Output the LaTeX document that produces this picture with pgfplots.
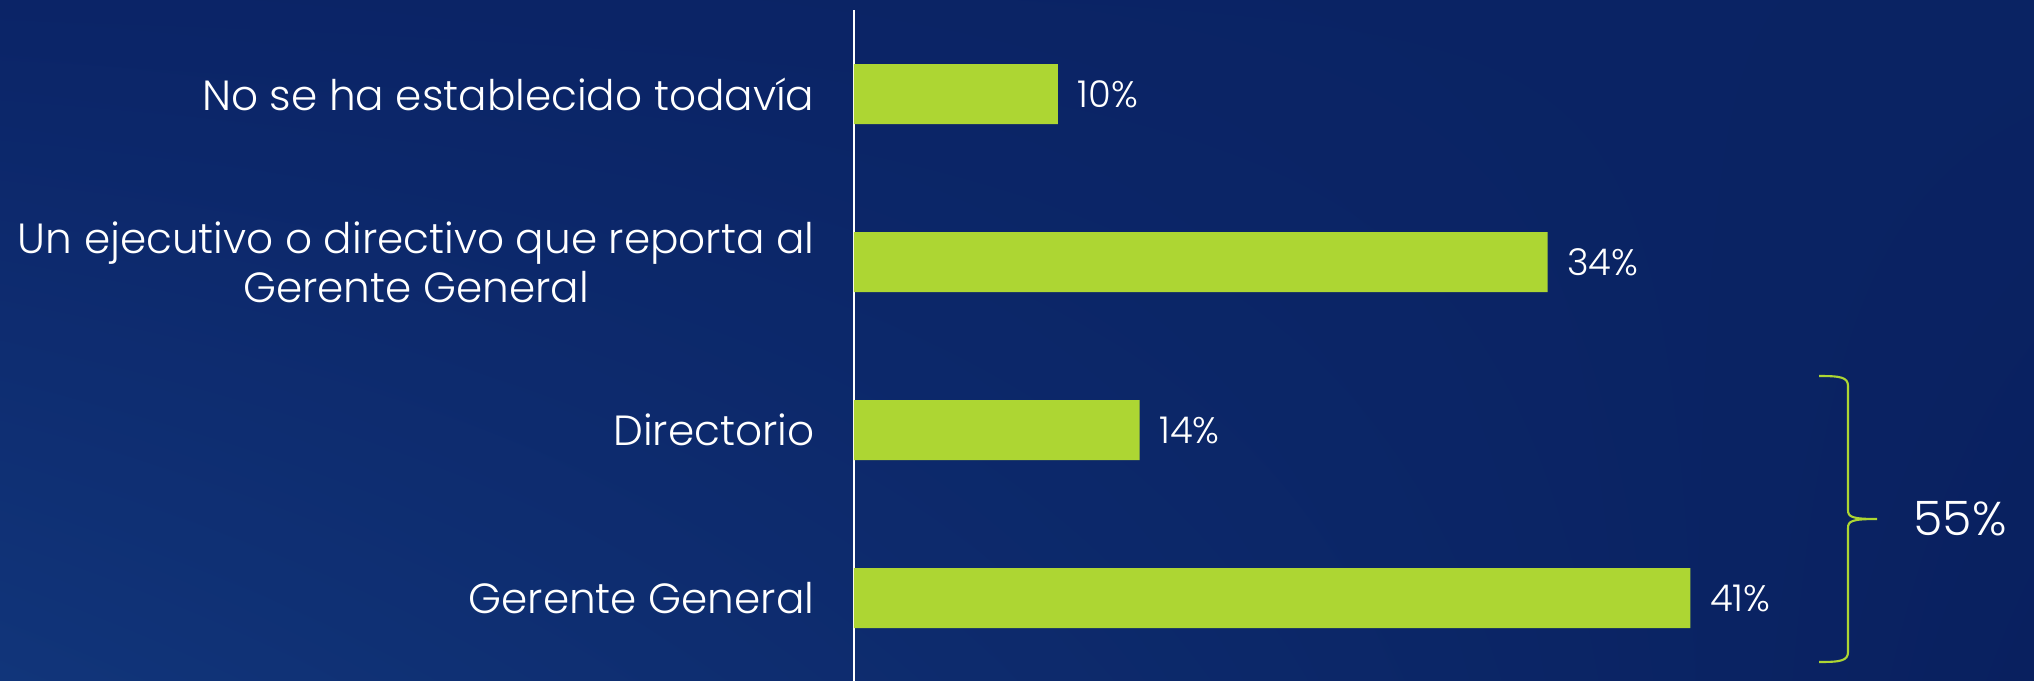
\documentclass[border=0pt]{standalone}
\usepackage{pgfplots}
\pgfplotsset{compat=1.18}
\usepackage{fontspec}
\setmainfont{Poppins}[UprightFont=* Light]
\usetikzlibrary{shadings}
\definecolor{bgLL}{HTML}{11357A}
\definecolor{bgUL}{HTML}{0B2467}
\definecolor{bgUR}{HTML}{0A2363}
\definecolor{bgLR}{HTML}{09205F}
\definecolor{barc}{HTML}{ADD633}
\begin{document}
\begin{tikzpicture}
\shade[lower left=bgLL, upper left=bgUL, upper right=bgUR, lower right=bgLR] (0,0) rectangle (20.34cm,6.8cm);
\begin{axis}[
  at={(8.54cm,-0.02cm)}, anchor=south west,
  scale only axis, width=11.424cm, height=6.72cm,
  xmin=0, xmax=56, ymin=-0.5, ymax=3.5,
  xbar, bar width=0.6cm,
  axis x line=none, axis y line*=left,
  y axis line style={white, line width=0.6pt},
  ytick={0,1,2,3},
  yticklabels={Gerente General, Directorio, {Un ejecutivo o directivo que reporta al\\Gerente General}, No se ha establecido todavía},
  major tick length=0pt,
  yticklabel style={align=center, text=white, font=\fontsize{12}{14}\selectfont, inner sep=0pt, xshift=-0.39cm},
  /pgf/number format/assume math mode=true,
  nodes near coords={\pgfmathprintnumber{\pgfplotspointmeta}\%},
  nodes near coords style={text=white, font=\fontsize{10.5}{13}\selectfont, inner sep=0pt, anchor=west, xshift=0.19cm},
  clip=false,
]
\addplot[fill=barc, draw=none] coordinates {(41,0) (14,1) (34,2) (10,3)};
\end{axis}
\draw[barc, line width=0.6pt] (18.19,3.04) .. controls (18.40,3.04) and (18.48,3.03) .. (18.48,2.94) -- (18.48,1.70) .. controls (18.48,1.63) and (18.52,1.61) .. (18.77,1.61) .. controls (18.52,1.61) and (18.48,1.59) .. (18.48,1.52) -- (18.48,0.28) .. controls (18.48,0.19) and (18.40,0.18) .. (18.19,0.18);
\node[text=white, font=\fontsize{13.5}{16}\selectfont] at (19.60,1.61) {55\%};
\pgfresetboundingbox
\useasboundingbox (0,0) rectangle (20.34cm,6.8cm);
\end{tikzpicture}
\end{document}
